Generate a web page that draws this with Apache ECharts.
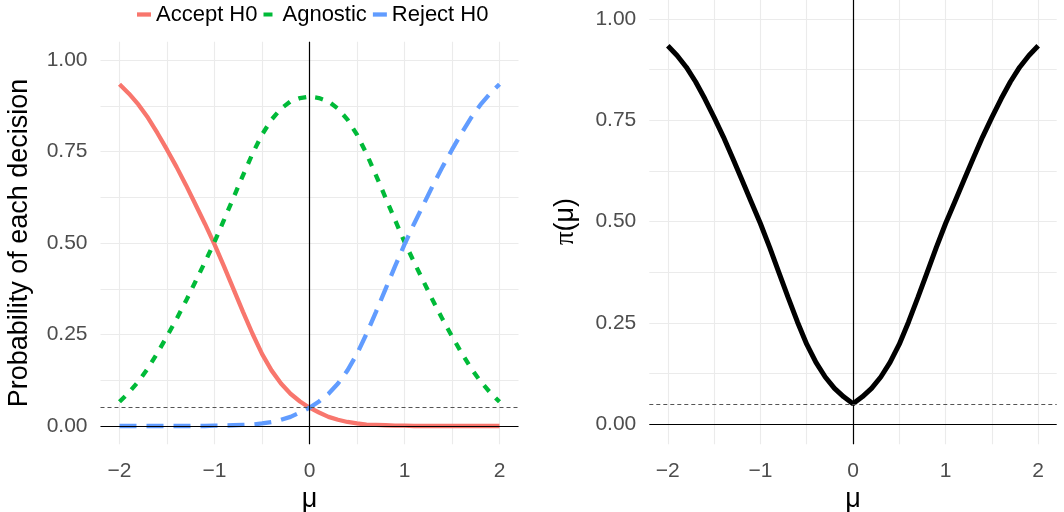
<!DOCTYPE html>
<html><head><meta charset="utf-8">
<script src="https://cdn.jsdelivr.net/npm/echarts@6/dist/echarts.min.js"></script>
<style>html,body{margin:0;padding:0;background:#fff}#c{width:1064px;height:512px}</style>
</head><body><div id="c"></div>
<script>
// ---- data ----
const mu = [-2.0,-1.9,-1.8,-1.7,-1.6,-1.5,-1.4,-1.3,-1.2,-1.1,-1.0,-0.9,-0.8,-0.7,-0.6,-0.5,-0.4,-0.3,-0.2,-0.1,
            0.0,0.1,0.2,0.3,0.4,0.5,0.6,0.7,0.8,0.9,1.0,1.1,1.2,1.3,1.4,1.5,1.6,1.7,1.8,1.9,2.0];
const acceptH0 = [0.934,0.908,0.878,0.842,0.800,0.755,0.708,0.658,0.605,0.552,0.496,0.436,0.374,0.312,0.252,0.197,0.152,0.116,0.088,0.067,
                  0.050,0.037,0.025,0.017,0.011,0.007,0.004,0.003,0.002,0.001,0.001,0,0,0,0,0,0,0,0,0,0];
const agnostic = [0.066,0.092,0.122,0.158,0.200,0.245,0.292,0.342,0.395,0.448,0.503,0.563,0.624,0.685,0.744,0.796,0.837,0.867,0.887,0.896,
                  0.900,0.896,0.887,0.867,0.837,0.796,0.744,0.685,0.624,0.563,0.503,0.448,0.395,0.342,0.292,0.245,0.200,0.158,0.122,0.092,0.066];
const rejectH0 = [0,0,0,0,0,0,0,0,0,0,0.001,0.001,0.002,0.003,0.004,0.007,0.011,0.017,0.025,0.037,
                  0.050,0.067,0.088,0.116,0.152,0.197,0.252,0.312,0.374,0.436,0.496,0.552,0.605,0.658,0.708,0.755,0.800,0.842,0.878,0.908,0.934];
const powerPi = [0.934,0.910,0.881,0.845,0.803,0.757,0.709,0.657,0.603,0.549,0.495,0.436,0.374,0.312,0.252,0.197,0.152,0.116,0.088,0.067,
                 0.050,0.067,0.088,0.116,0.152,0.197,0.252,0.312,0.374,0.436,0.495,0.549,0.603,0.657,0.709,0.757,0.803,0.845,0.881,0.910,0.934];
const xTickLabels = [-2,-1,0,1,2];
const xGridValues = [-2,-1.5,-1,-0.5,0,0.5,1,1.5,2];
const yTickLabels = [0,0.25,0.5,0.75,1];
const yGridValues = [0,0.125,0.25,0.375,0.5,0.625,0.75,0.875,1];
const alphaLevel = 0.05;
const seriesNames = ['Accept H0','Agnostic','Reject H0'];

// ---- chart ----
const FONT = "'Liberation Sans', Arial, Helvetica, sans-serif";
const pairs = ys => mu.map((m,i)=>[m, ys[i]]);
const xFmt = v => v < 0 ? '\u2212' + Math.abs(v) : String(v);
const yFmt = v => v.toFixed(2);

function xAx(gi){
  return {gridIndex:gi, type:'value', min:-2.2, max:2.2,
    axisLine:{show:false}, axisTick:{show:false, customValues:xGridValues},
    axisLabel:{customValues:xTickLabels, formatter:xFmt, color:'#4D4D4D', fontSize:21, fontFamily:FONT, margin:16},
    splitLine:{show:true, lineStyle:{color:'#EBEBEB', width:1.1}},
    name:'μ', nameLocation:'middle', nameGap:41,
    nameTextStyle:{fontSize:27, color:'#000', fontFamily:FONT}};
}
function yAx(gi, name, gap, rich){
  const o = {gridIndex:gi, type:'value', min:-0.05, max:1.05,
    axisLine:{show:false}, axisTick:{show:false, customValues:yGridValues},
    axisLabel:{customValues:yTickLabels, formatter:yFmt, color:'#4D4D4D', fontSize:21, fontFamily:FONT, margin:13},
    splitLine:{show:true, lineStyle:{color:'#EBEBEB', width:1.1}},
    name:name, nameLocation:'middle', nameRotate:90, nameGap:gap,
    nameTextStyle:{fontSize:27, color:'#000', fontFamily:FONT}};
  if (rich) o.nameTextStyle.rich = rich;
  return o;
}
const refLines = {
  silent:true, symbol:['none','none'], label:{show:false}, emphasis:{disabled:true}, animation:false,
  data:[
    {xAxis:0, lineStyle:{color:'#000', width:1.2, type:'solid'}},
    {yAxis:0, lineStyle:{color:'#000', width:1.2, type:'solid'}},
    {yAxis:alphaLevel, lineStyle:{color:'#555555', width:1, type:[4,3]}}
  ]
};

const chart = echarts.init(document.getElementById('c'), null, {renderer:'canvas'});
chart.setOption({
  animation:false,
  backgroundColor:'#fff',
  textStyle:{fontFamily:FONT},
  legend:{
    data:[
      {name:seriesNames[0], icon:'rect', itemStyle:{color:'#F8766D'}},
      {name:seriesNames[1], icon:'path://M0,0H9V4H0Z M13.98,3.98H14V4H13.98Z', itemStyle:{color:'#00BA38'}},
      {name:seriesNames[2], icon:'rect', itemStyle:{color:'#619CFF'}}
    ],
    left:137, top:3.5, padding:0, itemWidth:14, itemHeight:4.3, itemGap:6,
    textStyle:{fontSize:22, color:'#000', fontFamily:FONT}, selectedMode:false},
  grid:[
    {left:100.5, top:41.7, width:418, height:402.6, outerBoundsMode:'none', containLabel:false},
    {left:649.3, top:-1.25, width:407.4, height:445.5, outerBoundsMode:'none', containLabel:false}
  ],
  xAxis:[xAx(0), xAx(1)],
  yAxis:[yAx(0,'Probability of each decision',67),
         yAx(1,'{p|π}(μ)',70,{p:{fontFamily:"'Liberation Serif', serif", fontSize:27, color:'#000'}})],
  series:[
    {name:seriesNames[0], type:'line', xAxisIndex:0, yAxisIndex:0, data:pairs(acceptH0),
      symbol:'none', showSymbol:false, color:'#F8766D', lineStyle:{color:'#F8766D', width:4.3, type:'solid'},
      markLine:refLines, z:3},
    {name:seriesNames[1], type:'line', xAxisIndex:0, yAxisIndex:0, data:pairs(agnostic),
      symbol:'none', showSymbol:false, color:'#00BA38', lineStyle:{color:'#00BA38', width:4.3, type:[8,9]}, z:3},
    {name:seriesNames[2], type:'line', xAxisIndex:0, yAxisIndex:0, data:pairs(rejectH0),
      symbol:'none', showSymbol:false, color:'#619CFF', lineStyle:{color:'#619CFF', width:4.3, type:[17,10]}, z:3},
    {name:'π(μ)', type:'line', xAxisIndex:1, yAxisIndex:1, data:pairs(powerPi),
      symbol:'none', showSymbol:false, color:'#000', lineStyle:{color:'#000', width:5, type:'solid'},
      markLine:refLines, z:3}
  ]
});
</script></body></html>
